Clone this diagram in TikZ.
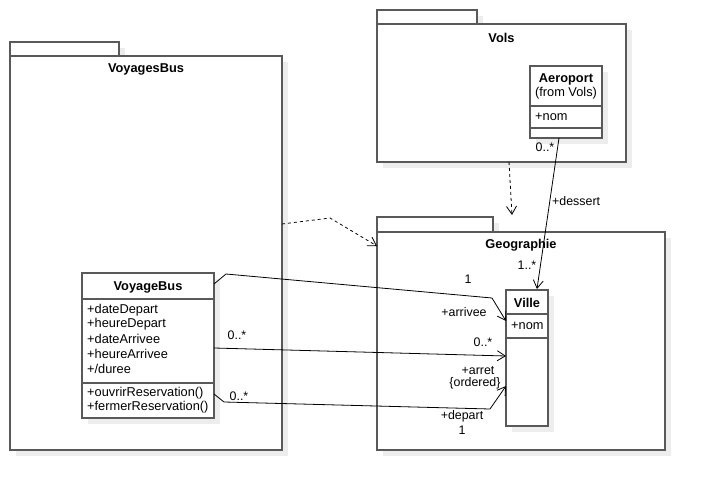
\documentclass[tikz,border=0pt]{standalone}
\usepackage{fontspec}
\setmainfont{Liberation Sans}
\usetikzlibrary{arrows.meta,calc,shadows}

\begin{document}
\begin{tikzpicture}[x=1pt, y=-1pt, font=\fontsize{12.8}{15}\selectfont,
  umlbox/.style = {draw=black!65, line width=1.4pt, fill=white, outer sep=0pt, inner sep=0pt, anchor=north west,
    drop shadow={shadow xshift=6pt, shadow yshift=-6pt, fill=black!7, opacity=1}},
  boldname/.style = {inner sep=0pt, font=\fontsize{12.8}{15}\selectfont\bfseries},
  member/.style = {anchor=west, inner sep=0pt},
  lbl/.style = {inner sep=0pt, font=\fontsize{12.4}{14}\selectfont},
  compart/.style = {draw=black!65, line width=1.4pt},
  assoc/.style = {draw=black, line width=0.8pt, -{Straight Barb[length=8pt, width=10pt]}},
  dep/.style = {assoc, dash pattern=on 3pt off 3pt}]
  \useasboundingbox (0,0) rectangle (705,490);

  % packages
  \node[umlbox, minimum width=109, minimum height=14] (vbtab) at (10,42) {};
  \node[umlbox, minimum width=272, minimum height=394] (vbpkg) at (10,56) {};
  \node[boldname] (vbpkgname) at (146,69.5) {VoyagesBus};

  \node[umlbox, minimum width=100, minimum height=14] (volstab) at (377,10) {};
  \node[umlbox, minimum width=249, minimum height=138] (volspkg) at (377,24) {};
  \node[boldname] (volspkgname) at (501.5,38) {Vols};

  \node[umlbox, minimum width=116, minimum height=15] (geotab) at (377,217) {};
  \node[umlbox, minimum width=288, minimum height=218] (geopkg) at (377,232) {};
  \node[boldname] (geopkgname) at (521,245) {Geographie};

  % classes
  \node[umlbox, minimum width=72, minimum height=72] (aero) at (530,66) {};
  \node[boldname] (aeroname) at (566,79) {Aeroport};
  \node[inner sep=0pt] (aerofrom) at (566,93.5) {(from Vols)};
  \draw[compart] ($(aero.north west)+(0,40)$) -- ($(aero.north east)+(0,40)$);
  \draw[compart] ($(aero.north west)+(0,62)$) -- ($(aero.north east)+(0,62)$);
  \node[member] (aeronom) at (535,117) {+nom};

  \node[umlbox, minimum width=42, minimum height=136] (ville) at (506,290) {};
  \node[boldname] (villename) at (527,302.5) {Ville};
  \draw[compart] ($(ville.north west)+(0,24)$) -- ($(ville.north east)+(0,24)$);
  \draw[compart] ($(ville.north west)+(0,48)$) -- ($(ville.north east)+(0,48)$);
  \node[member] (villenom) at (511,326) {+nom};

  \node[umlbox, minimum width=132, minimum height=145] (vb) at (82,273) {};
  \node[boldname] (vbname) at (148,287) {VoyageBus};
  \draw[compart] ($(vb.north west)+(0,26)$) -- ($(vb.north east)+(0,26)$);
  \draw[compart] ($(vb.north west)+(0,110)$) -- ($(vb.north east)+(0,110)$);
  \foreach \a [count=\i] in {+dateDepart, +heureDepart, +dateArrivee, +heureArrivee, +/duree}
    \node[member] (attr\i) at (87,{295+\i*14.8}) {\a};
  \node[member] (op1) at (87,393) {+ouvrirReservation()};
  \node[member] (op2) at (87,407.5) {+fermerReservation()};

  % dependencies
  \draw[dep] ($(volspkg.south west)+(132,0)$) -- ($(geotab.north west)+(135,-2)$);
  \draw[dep] ($(vbpkg.north east)+(0,168)$) -- ++(48,-6) -- ($(geopkg.north west)+(0,14)$);

  % associations
  \draw[assoc] ($(aero.south west)+(29,0)$) -- ($(ville.north west)+(31,-1)$);
  \node[lbl] (dessmult1) at (545,147) {0..*};
  \node[lbl, anchor=west] (dessrole) at (552,201.5) {+dessert};
  \node[lbl] (dessmult2) at (527,265) {1..*};

  \draw[assoc] ($(vb.north east)+(0,11)$) -- ++(12,-10) -- ($(ville.north west)+(-14,8)$) -- ($(ville.north west)+(0,31)$);
  \node[lbl] (arrmult) at (468,279) {1};
  \node[lbl] (arrrole) at (464,312) {+arrivee};

  \draw[assoc] ($(vb.north east)+(0,75)$) -- ($(ville.north west)+(0,66)$);
  \node[lbl] (arretmult1) at (237,335) {0..*};
  \node[lbl] (arretmult2) at (483,342.5) {0..*};
  \node[lbl] (arretrole) at (478,370.5) {+arret};
  \node[lbl] (arretord) at (475,383) {\{ordered\}};

  \draw[assoc] ($(vb.north east)+(0,121)$) -- ++(10,8) -- ($(ville.north west)+(-16,119)$) -- ($(ville.north west)+(0,96)$);
  \node[lbl] (depmult1) at (239,396) {0..*};
  \node[lbl] (deprole) at (462,416) {+depart};
  \node[lbl] (depmult2) at (462,430) {1};
\end{tikzpicture}
\end{document}
